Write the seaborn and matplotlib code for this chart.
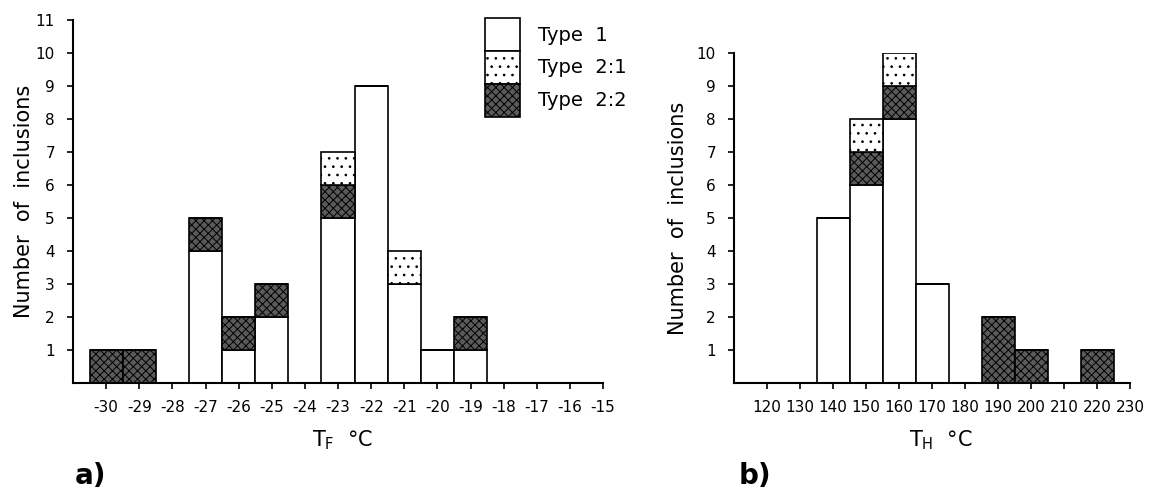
import numpy as np
import pandas as pd
import matplotlib
matplotlib.use("Agg")
import matplotlib.pyplot as plt
import matplotlib.patches as mpatches
import seaborn as sns

# panel a: freezing temperature T_F
tf_vals = [-30, -29, -28, -27, -26, -25, -24, -23, -22, -21, -20, -19]
tf_type1 = [0, 0, 0, 4, 1, 2, 0, 5, 9, 3, 1, 1]
tf_type21 = [0, 0, 0, 0, 0, 0, 0, 1, 0, 1, 0, 0]
tf_type22 = [1, 1, 0, 1, 1, 1, 0, 1, 0, 0, 0, 1]
tf_ticks = list(range(-30, -14))

# panel b: homogenisation temperature T_H
th_vals = [140, 150, 160, 170, 180, 190, 200, 210, 220]
th_type1 = [5, 6, 8, 3, 0, 0, 0, 0, 0]
th_type21 = [0, 1, 1, 0, 0, 0, 0, 0, 0]
th_type22 = [0, 1, 1, 0, 0, 2, 1, 0, 1]
th_ticks = list(range(120, 231, 10))

types = ["Type 1", "Type 2:1", "Type 2:2"]
DARK = "#5a5a5a"
pal = {"Type 1": "#ffffff", "Type 2:1": "#fefefe", "Type 2:2": DARK}


def longForm(xs, t1, t21, t22):
	rows = []
	for lab, cnt in zip(types, [t1, t21, t22]):
		for x, c in zip(xs, cnt):
			rows.append({"x": x, "n": c, "type": lab})
	return pd.DataFrame(rows)


def setHatches(ax):
	for p in ax.patches:
		fc = p.get_facecolor()
		r = int(round(fc[0] * 255))
		if r == 254:
			p.set_facecolor("white")
			p.set_hatch("..")
		elif r == int(DARK[1:3], 16):
			p.set_hatch("xxxx")


def styleAxis(ax, xlabel, xticks, ymax, xlim, ypad, xlabx):
	sns.despine(ax=ax)
	ax.set_xlim(*xlim)
	ax.set_ylim(0, ymax)
	ax.set_xticks(xticks)
	ax.set_xticklabels([str(t) for t in xticks])
	ax.set_yticks(range(1, ymax + 1))
	ax.set_yticklabels([str(t) for t in range(1, ymax + 1)])
	ax.tick_params(axis="x", direction="out", length=4, width=1.2, pad=8, labelsize=11, colors="black")
	ax.tick_params(axis="y", direction="out", length=4, width=1.2, pad=9, labelsize=11, colors="black")
	for s in ["left", "bottom"]:
		ax.spines[s].set_linewidth(1.5)
		ax.spines[s].set_color("black")
	ax.set_xlabel(xlabel, fontsize=15, labelpad=8, color="black")
	ax.xaxis.set_label_coords(xlabx, -0.1)
	ax.xaxis.label.set_va("top")
	ax.set_ylabel("Number  of  inclusions", fontsize=15, labelpad=ypad, color="black")
	ax.grid(False)


sns.set_style("ticks")
plt.rcParams["font.family"] = ["DejaVu Sans"]
plt.rcParams["text.color"] = "black"
plt.rcParams["hatch.linewidth"] = 0.7
plt.rcParams["hatch.color"] = "black"

fig = plt.figure(figsize=(11.58, 4.94), dpi=100)
axA = fig.add_axes([73 / 1158, 1 - 383 / 494, 530 / 1158, 363 / 494])
axB = fig.add_axes([734 / 1158, 1 - 383 / 494, 396 / 1158, 330 / 494])

hue_order = ["Type 2:1", "Type 2:2", "Type 1"]

dfA = longForm(tf_vals, tf_type1, tf_type21, tf_type22)
sns.histplot(data=dfA, x="x", weights="n", hue="type", hue_order=hue_order, multiple="stack",
	discrete=True, palette=pal, alpha=1, edgecolor="black", linewidth=1.2, legend=False, ax=axA)
setHatches(axA)
styleAxis(axA, "T$_\\mathrm{F}$  °C", tf_ticks, 11, (-31, -15), 1, 0.509)
axA.xaxis.set_label_coords(0.509, -45 / 363)

dfB = longForm(th_vals, th_type1, th_type21, th_type22)
sns.histplot(data=dfB, x="x", weights="n", hue="type", hue_order=hue_order, multiple="stack",
	binwidth=10, binrange=(135, 225), palette=pal, alpha=1, edgecolor="black", linewidth=1.2,
	legend=False, ax=axB)
setHatches(axB)
styleAxis(axB, "T$_\\mathrm{H}$  °C", th_ticks, 10, (110, 230), 6, 0.523)
axB.xaxis.set_label_coords(0.523, -45 / 330)

handles = [
	mpatches.Patch(facecolor="white", edgecolor="black", linewidth=1.2, label="Type  1"),
	mpatches.Patch(facecolor="white", edgecolor="black", linewidth=1.2, hatch="..", label="Type  2:1"),
	mpatches.Patch(facecolor=DARK, edgecolor="black", linewidth=1.2, hatch="xxxx", label="Type  2:2"),
]
leg = fig.legend(handles=handles, loc="upper left", bbox_to_anchor=(485 / 1158, 1 - 18 / 494),
	frameon=False, fontsize=14, handlelength=1.8, handleheight=2.23, labelspacing=0,
	handletextpad=0.9, borderpad=0, borderaxespad=0)
for t in leg.get_texts():
	t.set_color("black")

fig.text(75 / 1158, 1 - 476 / 494, "a)", fontsize=20, fontweight="bold", va="center")
fig.text(739 / 1158, 1 - 476 / 494, "b)", fontsize=20, fontweight="bold", va="center")

fig.savefig("out.png", dpi=100)
